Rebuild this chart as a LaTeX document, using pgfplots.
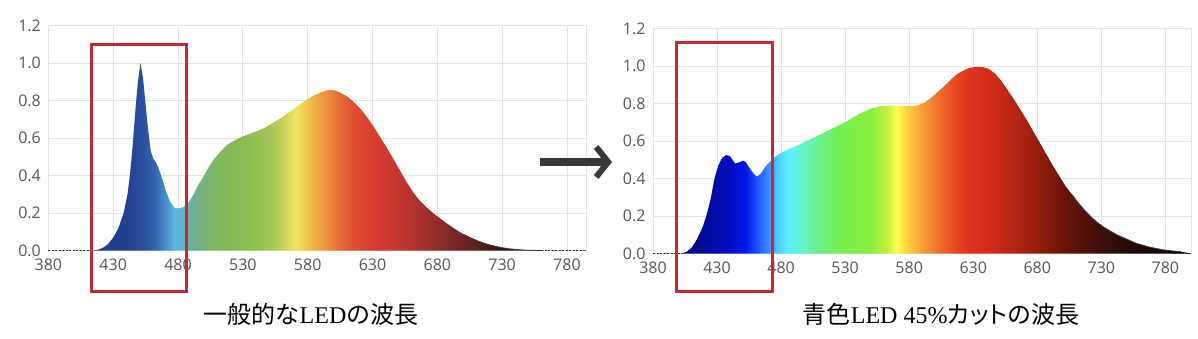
\documentclass[border=0pt]{standalone}
\usepackage{fontspec}
\setmainfont{Open Sans}
\newfontfamily\cjk{Noto Sans CJK JP}
\newfontfamily\cjkp[RawFeature=+palt]{Noto Sans CJK JP}
\newfontfamily\serif{Liberation Serif}
\usepackage{pgfplots}
\pgfplotsset{compat=1.18}
\usetikzlibrary{arrows.meta}

\definecolor{gridc}{HTML}{E3E3E3}
\definecolor{tickc}{HTML}{555555}
\definecolor{redc}{HTML}{C42B30}
\definecolor{arrowc}{HTML}{383838}

% left spectrum colours
\definecolor{La}{HTML}{1F3A88}
\definecolor{Lb}{HTML}{213F90}
\definecolor{Lc}{HTML}{2A4D9E}
\definecolor{Ld}{HTML}{3463AE}
\definecolor{Le}{HTML}{4A8CC8}
\definecolor{Lf}{HTML}{5AB4E2}
\definecolor{Lg}{HTML}{64B4CC}
\definecolor{Lh}{HTML}{6EAE9C}
\definecolor{Li}{HTML}{78B276}
\definecolor{Lj}{HTML}{82B858}
\definecolor{Lk}{HTML}{8CBE50}
\definecolor{Ll}{HTML}{A6C656}
\definecolor{Lm}{HTML}{CCD45C}
\definecolor{Ln}{HTML}{F0E862}
\definecolor{Lo}{HTML}{F0C24C}
\definecolor{Lp}{HTML}{EEA040}
\definecolor{Lq}{HTML}{E87438}
\definecolor{Lr}{HTML}{E05030}
\definecolor{Ls}{HTML}{D83C30}
\definecolor{Lt}{HTML}{C43630}
\definecolor{Lu}{HTML}{A42F2C}
\definecolor{Lv}{HTML}{7E2826}
\definecolor{Lw}{HTML}{58201A}
\definecolor{Lx}{HTML}{3A1610}
\definecolor{Ly}{HTML}{24100A}
\definecolor{Lz}{HTML}{180C08}

% right spectrum colours
\definecolor{Ra}{HTML}{00087A}
\definecolor{Rb}{HTML}{000CC0}
\definecolor{Rc}{HTML}{0018E8}
\definecolor{Rd}{HTML}{1C58FF}
\definecolor{Re}{HTML}{3C8CFF}
\definecolor{Rf}{HTML}{4CCCFF}
\definecolor{Rg}{HTML}{5CECFF}
\definecolor{Rh}{HTML}{64F4C8}
\definecolor{Ri}{HTML}{6CF088}
\definecolor{Rj}{HTML}{74F050}
\definecolor{Rk}{HTML}{88F040}
\definecolor{Rl}{HTML}{C4F040}
\definecolor{Rm}{HTML}{FFFF50}
\definecolor{Rn}{HTML}{FFD040}
\definecolor{Ro}{HTML}{F8A038}
\definecolor{Rp}{HTML}{F07A2C}
\definecolor{Rq}{HTML}{E85426}
\definecolor{Rr}{HTML}{E03420}
\definecolor{Rs}{HTML}{D02A1A}
\definecolor{Rt}{HTML}{B02414}
\definecolor{Ru}{HTML}{8A1A0E}
\definecolor{Rv}{HTML}{62120A}
\definecolor{Rw}{HTML}{3C0E08}
\definecolor{Rx}{HTML}{1C0806}
\definecolor{Ry}{HTML}{100606}

% positions: 25bp..75bp map onto the data range (380..795 / 380..800)
\pgfdeclarehorizontalshading{specL}{100bp}{color(0bp)=(La); color(25bp)=(La); color(29.22bp)=(La);
 color(32.23bp)=(Lb); color(33.67bp)=(Lc); color(34.88bp)=(Ld); color(35.84bp)=(Le);
 color(36.69bp)=(Lf); color(37.41bp)=(Lg); color(38.25bp)=(Lh); color(39.46bp)=(Li);
 color(41.27bp)=(Lj); color(43.67bp)=(Lk); color(45.72bp)=(Ll); color(46.93bp)=(Lm);
 color(48.01bp)=(Ln); color(49.10bp)=(Lo); color(50.30bp)=(Lp); color(51.75bp)=(Lq);
 color(53.31bp)=(Lr); color(55.12bp)=(Ls); color(57.53bp)=(Lt); color(59.94bp)=(Lu);
 color(62.35bp)=(Lv); color(64.76bp)=(Lw); color(67.17bp)=(Lx); color(69.58bp)=(Ly);
 color(75bp)=(Lz); color(100bp)=(Lz)}

\pgfdeclarehorizontalshading{specR}{100bp}{color(0bp)=(Ra); color(25bp)=(Ra); color(27.98bp)=(Ra);
 color(32.14bp)=(Rb); color(33.57bp)=(Rc); color(34.76bp)=(Rd); color(35.71bp)=(Re);
 color(36.55bp)=(Rf); color(37.50bp)=(Rg); color(38.93bp)=(Rh); color(40.48bp)=(Ri);
 color(42.26bp)=(Rj); color(45.24bp)=(Rk); color(46.79bp)=(Rl); color(47.62bp)=(Rm);
 color(48.57bp)=(Rn); color(50.00bp)=(Ro); color(51.19bp)=(Rp); color(52.62bp)=(Rq);
 color(54.17bp)=(Rr); color(56.55bp)=(Rs); color(58.93bp)=(Rt); color(61.31bp)=(Ru);
 color(63.69bp)=(Rv); color(66.67bp)=(Rw); color(70.24bp)=(Rx); color(75bp)=(Ry);
 color(100bp)=(Ry)}

\pgfplotstableread{
x y
380 0
414 0
418 0.005
422 0.015
426 0.035
430 0.07
434 0.12
438 0.20
441 0.30
443 0.41
445 0.56
447 0.74
449 0.90
451 1.00
453 0.92
455 0.78
457 0.64
459 0.53
461 0.49
463 0.47
465 0.44
468 0.38
471 0.31
474 0.26
477 0.23
480 0.225
484 0.232
488 0.255
492 0.30
496 0.355
500 0.40
504 0.45
508 0.49
513 0.53
518 0.565
524 0.59
530 0.61
536 0.625
542 0.64
548 0.66
554 0.685
560 0.71
566 0.74
572 0.77
578 0.80
584 0.825
590 0.845
596 0.857
601 0.855
606 0.84
611 0.82
616 0.79
621 0.755
626 0.71
631 0.66
636 0.605
641 0.55
646 0.49
651 0.43
656 0.37
661 0.315
666 0.27
671 0.235
676 0.205
681 0.178
686 0.152
691 0.128
696 0.105
701 0.085
706 0.068
711 0.053
716 0.04
721 0.03
726 0.022
731 0.015
736 0.01
741 0.007
746 0.004
752 0.002
760 0.001
795 0
}\specleft

\pgfplotstableread{
x y
380 0
402 0
406 0.008
410 0.03
413 0.06
416 0.10
419 0.145
422 0.21
425 0.29
428 0.40
431 0.47
434 0.51
437 0.525
440 0.52
442 0.50
444 0.48
447 0.485
450 0.495
452 0.49
455 0.46
458 0.43
461 0.41
464 0.425
468 0.465
472 0.495
476 0.52
481 0.54
487 0.56
494 0.58
503 0.61
512 0.64
521 0.67
530 0.70
540 0.74
549 0.77
557 0.785
565 0.79
573 0.787
581 0.785
587 0.79
592 0.805
597 0.83
602 0.86
607 0.89
612 0.925
617 0.955
622 0.975
627 0.99
632 0.995
637 0.995
642 0.985
647 0.96
652 0.92
657 0.87
662 0.82
667 0.765
672 0.71
677 0.65
682 0.59
687 0.53
692 0.47
697 0.415
702 0.36
707 0.315
712 0.27
717 0.23
722 0.195
727 0.165
732 0.14
737 0.12
742 0.10
747 0.085
752 0.07
757 0.055
762 0.045
767 0.035
772 0.028
778 0.02
785 0.014
792 0.01
800 0
}\specright

\pgfplotsset{spec/.style={
  scale only axis, width=538bp, height=225bp,
  anchor=south west,
  ymin=0, ymax=1.2,
  xtick={380,430,480,530,580,630,680,730,780},
  ytick={0,0.2,0.4,0.6,0.8,1.0,1.2},
  grid=major,
  major grid style={draw=gridc, line width=0.8bp},
  axis line style={draw=gridc, line width=0.8bp},
  tick style={draw=none},
  /pgf/number format/assume math mode=true,
  yticklabel style={/pgf/number format/fixed, /pgf/number format/fixed zerofill, /pgf/number format/precision=1, xshift=-4bp},
  xticklabel style={yshift=-5bp},
  ticklabel style={font=\fontsize{16bp}{16bp}\selectfont, text=tickc},
  clip=false,
}}

\begin{document}
\begin{tikzpicture}[x=1bp,y=1bp]
\useasboundingbox (0,0) rectangle (1198,338);

\begin{axis}[spec, at={(48.4bp,87.3bp)}, xmin=380, xmax=795]
  \addplot[draw=none, shade, shading=specL] table[x=x,y=y] {\specleft} \closedcycle;
  \addplot[draw=black!75, line width=0.7bp, restrict x to domain=700:760] table[x=x,y=y] {\specleft};
  \addplot[draw=black!85, line width=1bp, dash pattern=on 2bp off 1.5bp] coordinates {(380,0) (414,0)};
  \addplot[draw=black!85, line width=1bp, dash pattern=on 2bp off 1.5bp] coordinates {(752,0) (795,0)};
  \draw[redc, line width=3bp] (axis cs:413.4,1.099) rectangle (axis cs:486.7,-0.219);
\end{axis}

\begin{axis}[spec, at={(653bp,84.5bp)}, xmin=380, xmax=800]
  \addplot[draw=none, shade, shading=specR] table[x=x,y=y] {\specright} \closedcycle;
  \addplot[draw=black!75, line width=0.8bp, restrict x to domain=705:792] table[x=x,y=y] {\specright};
  \addplot[draw=black!85, line width=1bp, dash pattern=on 2bp off 1.5bp] coordinates {(380,0) (402,0)};
  \addplot[draw=black!85, line width=1bp, dash pattern=on 2bp off 1.5bp] coordinates {(785,0) (800,0)};
  \draw[redc, line width=3bp] (axis cs:398.5,1.124) rectangle (axis cs:473.5,-0.204);
\end{axis}

\draw[arrowc, line width=8bp, -{Straight Barb[length=12bp, width=30bp, line width=6bp]}] (540,176) -- (612,176);

\node[font=\fontsize{24bp}{24bp}\selectfont] at (311,24) {{\cjk 一般的な}{\serif LED}{\cjk の波長}};
\node[font=\fontsize{24bp}{24bp}\selectfont] at (941,24) {{\cjk 青色}{\serif LED 45\%}{\cjkp カット}{\cjk の波長}};
\end{tikzpicture}
\end{document}
